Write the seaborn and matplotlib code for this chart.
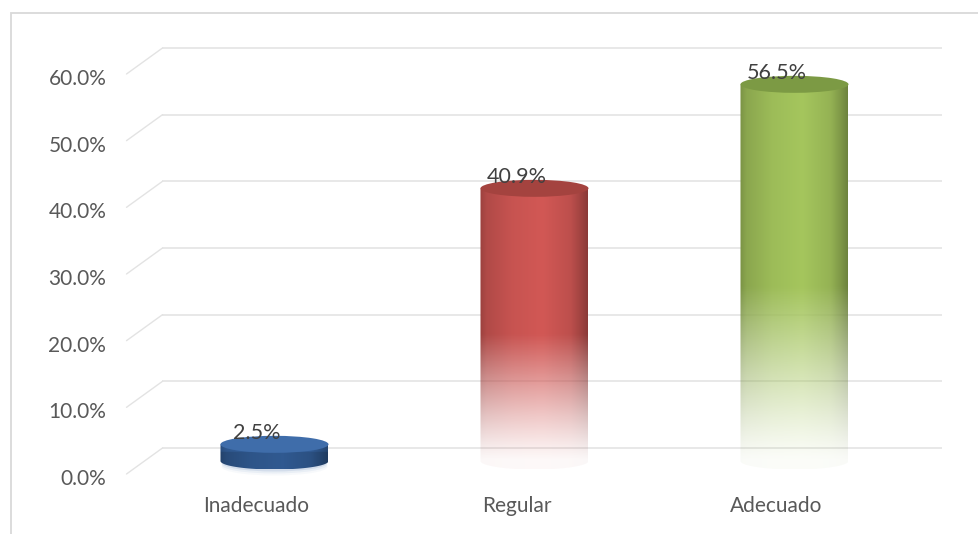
import numpy as np
import pandas as pd
import matplotlib
matplotlib.use("Agg")
import matplotlib.pyplot as plt
import matplotlib.transforms as mtrans
from matplotlib.patches import Ellipse, Rectangle
from matplotlib.path import Path
from matplotlib.colors import to_rgb
import seaborn as sns

# ---- data ----
categories = ["Inadecuado", "Regular", "Adecuado"]
values = [2.5, 40.9, 56.5]
tick_values = [0, 10, 20, 30, 40, 50, 60]
tick_labels = ["0.0%", "10.0%", "20.0%", "30.0%", "40.0%", "50.0%", "60.0%"]
value_labels = ["2.5%", "40.9%", "56.5%"]
bar_colors = ["#3868A8", "#D25855", "#A5C65D"]
top_colors = ["#3F6DAA", "#A4433F", "#7C9A44"]

sns.set_theme(style="white")
plt.rcParams["font.family"] = ["Lato", "DejaVu Sans"]

W, H = 979, 534
DPI = 100
fig = plt.figure(figsize=(W / DPI, H / DPI), dpi=DPI)
fig.patch.set_facecolor("white")

PXU = 400 / 60          # pixels per percentage unit
Y_MIN = -3.0            # room below zero for the rounded cylinder bottoms
zero_px = 461
ax_bottom_px = zero_px - Y_MIN * PXU
ax_h_px = (60 - Y_MIN) * PXU
ax = fig.add_axes([144.5 / W, (H - ax_bottom_px) / H, 780 / W, ax_h_px / H])
df = pd.DataFrame({"cat": categories, "val": values})
sns.barplot(data=df, x="cat", y="val", hue="cat", palette=bar_colors,
            width=108 / 260, legend=False, saturation=1, ax=ax, zorder=2)

ax.set_xlim(-0.5, 2.5)
ax.set_ylim(Y_MIN, 60)
for s in ax.spines.values():
    s.set_visible(False)
ax.set_facecolor("none")
ax.set_xlabel("")
ax.set_ylabel("")

dpt = fig.dpi_scale_trans
back = ax.transData + mtrans.ScaledTranslation(18 / DPI, 13 / DPI, dpt)
front = ax.transData + mtrans.ScaledTranslation(-18 / DPI, -13 / DPI, dpt)

# gridlines on back wall + perspective floor segments
for v in tick_values:
    ax.plot([-0.5, 2.5], [v, v], transform=back, color="#e8e8e8", lw=1.4,
            clip_on=False, zorder=0, solid_capstyle="butt")
    p1 = front.transform((-0.5, v))
    p2 = back.transform((-0.5, v))
    ax.plot([p1[0], p2[0]], [p1[1], p2[1]], transform=mtrans.IdentityTransform(),
            color="#e3e3e3", lw=1.0, clip_on=False, zorder=0)

# ticks
ax.set_yticks(tick_values)
ax.set_yticklabels(tick_labels)
ax.tick_params(axis="y", length=0, pad=27.5, labelsize=15, labelcolor="#595959")
ax.set_xticks(range(len(categories)))
ax.set_xticklabels(categories)
ax.tick_params(axis="x", length=0, pad=11, labelsize=15, labelcolor="#595959")
for lbl in ax.get_yticklabels():
    lbl.set_transform(lbl.get_transform() + mtrans.ScaledTranslation(0, -16 / DPI, dpt))
for lbl in ax.get_xticklabels():
    lbl.set_transform(lbl.get_transform() + mtrans.ScaledTranslation(-18 / DPI, 0, dpt))

# cylinders built on the seaborn bars
ell_h = 17 / PXU
patches = sorted(ax.patches, key=lambda p: p.get_x())
nx, ny = 240, 400
t = np.linspace(0, 1, nx)
shade = np.interp(t, [0, 0.06, 0.3, 0.58, 0.84, 0.94, 1.0],
                  [0.74, 0.84, 0.95, 1.0, 0.9, 0.76, 0.66])
for i, p in enumerate(patches):
    x0, w, h = p.get_x(), p.get_width(), p.get_height()
    xc = x0 + w / 2
    p.set_facecolor("none")
    p.set_edgecolor("none")
    base = np.array(to_rgb(bar_colors[i]))
    rgb = np.clip(base[None, :] * shade[:, None], 0, 1)  # nx x 3
    y_lo = -ell_h / 2
    yy = np.linspace(y_lo, h, ny)
    fade = h >= 10
    if fade:
        a = np.clip(yy / (0.46 * h), 0, 1) ** 1.15
        alpha = 0.04 + 0.96 * a
        dark = np.ones(ny)
    else:
        alpha = np.ones(ny)
        dark = np.where(yy < h - ell_h / 2, 0.86, 1.0)
    img = np.zeros((ny, nx, 4))
    img[:, :, :3] = np.clip(rgb[None, :, :] * dark[:, None, None], 0, 1)
    img[:, :, 3] = alpha[:, None]
    im = ax.imshow(img, extent=(x0, x0 + w, y_lo, h), origin="lower", aspect="auto",
                   interpolation="bilinear", zorder=2)
    th = np.linspace(np.pi, 2 * np.pi, 60)
    verts = [(x0, h), (x0, 0)] + [(xc + w / 2 * np.cos(a_), ell_h / 2 * np.sin(a_)) for a_ in th] \
            + [(x0 + w, h), (x0, h)]
    codes = [Path.MOVETO] + [Path.LINETO] * (len(verts) - 2) + [Path.CLOSEPOLY]
    im.set_clip_path(Path(verts, codes), transform=ax.transData)
    if not fade:
        # soft shadow under the short cylinder
        for k, al in enumerate([0.12, 0.07, 0.035]):
            ax.add_patch(Ellipse((xc, -0.3 * (k + 1)), w * 0.98, ell_h,
                                 facecolor=tuple(base), alpha=al, edgecolor="none",
                                 zorder=1.9, clip_on=False))
    # top face
    ax.add_patch(Ellipse((xc, h), w, ell_h, facecolor=top_colors[i],
                         edgecolor="none", zorder=3, clip_on=False))
    ax.text(xc, values[i], value_labels[i],
            transform=ax.transData + mtrans.ScaledTranslation(-18 / DPI, 11 / DPI, dpt),
            ha="center", va="center", fontsize=15.5, color="#404040", zorder=5)

ax.set_xlim(-0.5, 2.5)
ax.set_ylim(Y_MIN, 60)

# outer chart border (cropped at right/bottom)
fig.patches.append(Rectangle((10.5 / W, -0.05), 1.2, (H - 12.5) / H + 0.05,
                             transform=fig.transFigure, fill=False,
                             edgecolor="#d9d9d9", lw=1.3))

fig.savefig("out.png", dpi=DPI)
